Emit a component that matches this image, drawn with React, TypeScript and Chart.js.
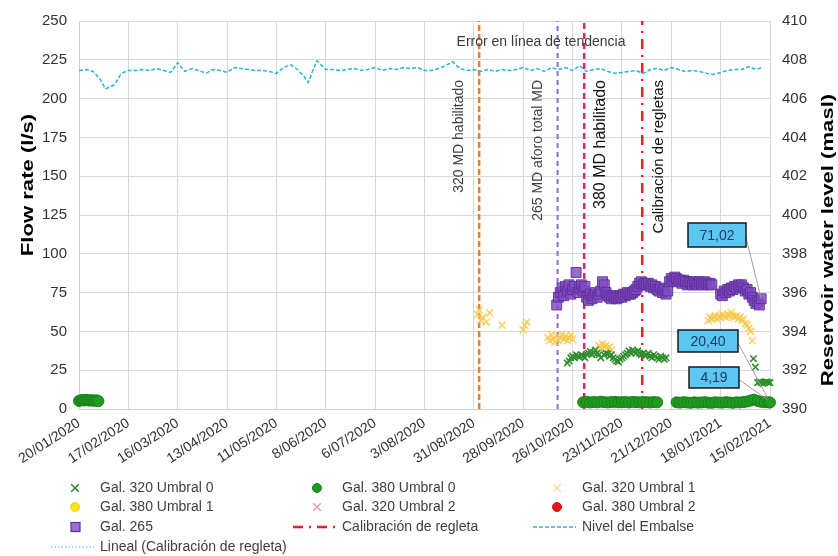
import React, { useEffect, useRef } from 'react';
import { Chart, registerables } from 'chart.js';

Chart.register(...registerables);

// ---------- DATA (x = days since 20/01/2020) ----------
const xTickLabels = [
  '20/01/2020', '17/02/2020', '16/03/2020', '13/04/2020', '11/05/2020', '8/06/2020', '6/07/2020',
  '3/08/2020', '31/08/2020', '28/09/2020', '26/10/2020', '23/11/2020', '21/12/2020', '18/01/2021', '15/02/2021',
];

const gal320U0 = [
  [277, 29.6], [278, 31], [279, 33], [280, 34], [281, 33], [282, 35], [283, 34], [284, 33.5], [285, 35], [286, 34],
  [287, 33], [288, 35.5], [289, 36], [290, 37], [291, 35], [292, 36.5], [293, 38], [294, 36], [295, 35], [296, 33],
  [298, 35], [299, 36], [300, 35.5], [301, 34], [302, 35], [303, 33], [304, 32], [305, 31], [306, 30.5], [307, 32],
  [308, 33], [309, 34], [310, 35], [311, 36], [312, 37.5], [313, 36], [314, 38], [315, 37], [316, 36], [317, 37.5],
  [318, 36], [319, 35], [320, 36], [321, 34.5], [322, 35], [323, 36], [324, 34], [325, 33], [326, 35], [327, 34],
  [328, 33], [329, 32], [330, 34], [331, 33], [332, 32], [333, 33],
  [382.6, 32.4], [383.7, 27], [385, 17], [386, 17.5], [387, 17], [388, 16.5], [389, 17], [390, 17.5], [391, 17], [392, 17],
];

const gal380U0 = [
  [0, 5.2], [1, 5.6], [2, 5.8], [3, 5.5], [4, 5.9], [5, 5.6], [6, 5.4], [7, 5.7], [8, 5.5], [9, 5.3], [10, 5.6], [11, 5.1],
  [286, 4.4], [288, 4.6], [290, 4.2], [292, 4.5], [294, 4.3], [296, 4.7], [298, 4.4], [300, 4.2], [302, 4.5], [304, 4.6],
  [306, 4.3], [308, 4.4], [310, 4.5], [312, 4.2], [314, 4.6], [316, 4.4], [318, 4.3], [320, 4.5], [322, 4.4], [324, 4.2],
  [326, 4.5], [328, 4.3],
  [339, 4.3], [341, 4.1], [343, 4.4], [345, 4.2], [347, 4.0], [349, 4.3], [351, 4.1], [353, 4.2], [355, 4.4], [357, 4.1],
  [359, 4.0], [361, 4.3], [363, 4.2], [365, 4.1], [367, 4.4], [369, 4.2], [371, 4.0], [373, 4.3], [375, 4.2], [377, 4.5],
  [379, 4.8], [381, 5.5], [383, 6.0], [385, 5.2], [387, 4.6], [389, 4.4], [391, 4.3], [392, 4.19],
];

const gal320U1 = [
  [226, 61], [227, 64], [228, 57], [229, 59], [231, 56], [233, 62], [240, 54], [252, 51], [253, 54], [254, 56],
  [266, 46], [267, 44], [268, 48], [269, 45], [270, 43], [271, 47], [272, 44], [273, 46], [274, 48], [275, 45],
  [276, 47], [277, 44], [278, 46], [279, 48], [280, 45],
  [295, 41], [296, 39], [297, 42], [298, 40], [299, 41], [300, 39], [301, 40], [302, 38],
  [357, 57], [358, 59], [359, 58], [360, 59], [361, 60], [362, 58], [363, 60], [364, 59], [365, 61], [366, 60],
  [367, 59], [368, 61], [369, 60], [370, 62], [371, 60], [372, 59], [373, 60], [374, 58], [375, 59], [376, 57],
  [377, 58], [378, 55], [379, 54], [380, 52], [381, 50], [382, 44],
];

const gal380U1: number[][] = [];
const gal320U2: number[][] = [];
const gal380U2: number[][] = [];

const gal265 = [
  [271, 67], [272, 72], [273, 75], [274, 78], [275, 73], [276, 79], [277, 76], [278, 80], [279, 74], [280, 77],
  [281, 79], [282, 88], [283, 75], [284, 78], [285, 80], [286, 76], [287, 79], [288, 72], [289, 70], [290, 74],
  [291, 71], [292, 73], [293, 75], [294, 72], [295, 74], [296, 76], [297, 82], [298, 80], [299, 75], [300, 73],
  [301, 72], [302, 71], [303, 73], [304, 72], [305, 71], [306, 72], [307, 73], [308, 72], [309, 74], [310, 73],
  [311, 75], [312, 74], [313, 74], [314, 75], [315, 76], [316, 77], [317, 79], [318, 81], [319, 82], [320, 80],
  [321, 81], [322, 80], [323, 81], [324, 79], [325, 80], [326, 78], [327, 79], [328, 77], [329, 76], [330, 78],
  [331, 75], [332, 77], [333, 74], [334, 76], [335, 82], [336, 84], [337, 83], [338, 85], [339, 84], [340, 82],
  [341, 83], [342, 81], [343, 83], [344, 82], [345, 80], [346, 82], [347, 81], [348, 80], [349, 82], [350, 81],
  [351, 80], [352, 82], [353, 81], [354, 80], [355, 82], [356, 81], [357, 80], [358, 81], [359, 80],
  [364, 74], [365, 73], [366, 76], [367, 75], [368, 77], [369, 76], [370, 78], [371, 77], [372, 79], [373, 78],
  [374, 80], [375, 79], [376, 80], [377, 78], [378, 76], [379, 77], [380, 74], [381, 75], [382, 72], [383, 70],
  [384, 68], [385, 69], [386, 67], [387, 71.02],
];

const nivelEmbalse = [
  [0, 407.45], [4, 407.5], [8, 407.4], [12, 407.0], [15, 406.5], [20, 406.7], [24, 407.3], [28, 407.45], [32, 407.45],
  [36, 407.5], [40, 407.45], [44, 407.55], [48, 407.45], [52, 407.35], [56, 407.85], [60, 407.4], [64, 407.55],
  [68, 407.45], [72, 407.3], [76, 407.5], [80, 407.45], [84, 407.35], [88, 407.6], [92, 407.55], [96, 407.5],
  [100, 407.45], [104, 407.45], [108, 407.4], [112, 407.3], [116, 407.6], [120, 407.75], [124, 407.5], [128, 407.1],
  [130, 406.83], [132, 407.3], [135, 407.95], [140, 407.5], [144, 407.5], [148, 407.45], [152, 407.5], [156, 407.55],
  [160, 407.45], [164, 407.5], [168, 407.6], [172, 407.45], [176, 407.55], [180, 407.5], [184, 407.6], [188, 407.55],
  [192, 407.6], [196, 407.45], [200, 407.45], [204, 407.55], [208, 407.7], [212, 407.9], [216, 407.55], [220, 407.45],
  [224, 407.5], [228, 407.4], [232, 407.5], [236, 407.4], [240, 407.5], [244, 407.45], [248, 407.5], [252, 407.6],
  [256, 407.45], [260, 407.55], [264, 407.4], [268, 407.6], [272, 407.5], [276, 407.6], [280, 407.45], [284, 407.7],
  [288, 407.4], [292, 407.5], [296, 407.55], [300, 407.4], [304, 407.3], [308, 407.35], [312, 407.4], [316, 407.45],
  [320, 407.3], [324, 407.5], [328, 407.55], [332, 407.45], [336, 407.6], [340, 407.5], [344, 407.4], [348, 407.45],
  [352, 407.4], [356, 407.3], [360, 407.25], [364, 407.35], [368, 407.45], [372, 407.5], [376, 407.5], [380, 407.65],
  [384, 407.5], [388, 407.6],
];

const lineal: number[][] = [];

// event lines: 320 MD habilitado, 265 MD aforo total MD, 380 MD habilitado, Calibración de regletas
const eventDays = [227, 271.5, 286.6, 319.5];
const eventLabels = ['320 MD habilitado', '265 MD aforo total MD', '380 MD habilitado', 'Calibración de regletas'];

const calloutLabels = ['71,02', '20,40', '4,19'];
const calloutTargetDays = [387, 390.5, 390.5];
const calloutTargetValues = [71.02, 7.5, 6];

const noteText = 'Error en línea de tendencia';
const leftTitle = 'Flow rate (l/s)';
const rightTitle = 'Reservoir water level (masl)';

// ---------- STYLE / LAYOUT ----------
const FONT = '"Liberation Sans", Arial, sans-serif';

const eventStyles = [
  { color: '#F07F22', dash: [6, 3], width: 2.5 },
  { color: '#8E6AD2', dash: [5, 4], width: 2 },
  { color: '#E2246E', dash: [6, 4], width: 2.5 },
  { color: '#E3232C', dash: [10, 6, 2, 6], width: 2.5 },
];

const eventTextLayout = [
  { dx: -20, size: 14, color: '#404040' },
  { dx: -19, size: 14, color: '#404040' },
  { dx: 16, size: 16, color: '#111111' },
  { dx: 17, size: 15, color: '#111111' },
];

const calloutBoxes = [
  [688, 223, 58, 24],
  [678, 330, 60, 22],
  [689, 367, 50, 21],
];

const legendTextX = [100, 342, 582];
const legendRowY = [488, 507, 527, 547];

function drawMarker(ctx: CanvasRenderingContext2D, ds: any, x: number, y: number) {
  ctx.save();
  const style = ds.pointStyle;
  ctx.lineWidth = ds.borderWidth ?? 1;
  ctx.strokeStyle = ds.legendStroke ?? ds.borderColor;
  ctx.fillStyle = ds.legendFill ?? ds.backgroundColor;
  if (ds.showLine) {
    ctx.setLineDash(ds.borderDash || []);
    ctx.lineWidth = ds.borderWidth;
    ctx.beginPath();
    ctx.moveTo(x - 49, y);
    ctx.lineTo(x - 6, y);
    ctx.stroke();
  } else if (style === 'crossRot') {
    const r = 3.8;
    ctx.lineWidth = 1.6;
    ctx.beginPath();
    ctx.moveTo(x - 25 - r, y - r); ctx.lineTo(x - 25 + r, y + r);
    ctx.moveTo(x - 25 + r, y - r); ctx.lineTo(x - 25 - r, y + r);
    ctx.stroke();
  } else if (style === 'circle') {
    ctx.beginPath();
    ctx.arc(x - 25, y, 4.5, 0, Math.PI * 2);
    ctx.fill();
    ctx.lineWidth = 1;
    ctx.stroke();
  } else if (style === 'rect') {
    ctx.fillRect(x - 29, y - 4.5, 9, 9);
    ctx.lineWidth = 1.2;
    ctx.strokeRect(x - 29, y - 4.5, 9, 9);
  }
  ctx.restore();
}

const overlayPlugin = {
  id: 'overlay',
  afterDatasetsDraw(chart: any) {
    const { ctx, scales } = chart;
    const xs = scales.x;
    const ys = scales.y;
    // event labels
    eventLabels.forEach((t, i) => {
      const lay = eventTextLayout[i];
      const px = xs.getPixelForValue(eventDays[i]) + lay.dx;
      ctx.save();
      ctx.translate(px, 80);
      ctx.rotate(-Math.PI / 2);
      ctx.font = `${lay.size}px ${FONT}`;
      ctx.fillStyle = lay.color;
      ctx.textAlign = 'right';
      ctx.textBaseline = 'middle';
      ctx.fillText(t, 0, 0);
      ctx.restore();
    });
    // note
    ctx.save();
    ctx.font = `14px ${FONT}`;
    ctx.fillStyle = '#3a3a3a';
    ctx.textAlign = 'center';
    ctx.textBaseline = 'middle';
    ctx.fillText(noteText, 541, 42);
    ctx.restore();
    // callouts
    calloutLabels.forEach((t, i) => {
      const [bx, by, bw, bh] = calloutBoxes[i];
      const tx = xs.getPixelForValue(calloutTargetDays[i]);
      const ty = ys.getPixelForValue(calloutTargetValues[i]);
      ctx.save();
      ctx.strokeStyle = '#A0A0A0';
      ctx.lineWidth = 1;
      ctx.beginPath();
      ctx.moveTo(bx + bw, by + bh * 0.6);
      ctx.lineTo(tx, ty);
      ctx.stroke();
      ctx.fillStyle = '#5CC6F2';
      ctx.fillRect(bx, by, bw, bh);
      ctx.strokeStyle = '#1a1a1a';
      ctx.lineWidth = 1.5;
      ctx.strokeRect(bx, by, bw, bh);
      ctx.font = `14px ${FONT}`;
      ctx.fillStyle = '#1F3A60';
      ctx.textAlign = 'center';
      ctx.textBaseline = 'middle';
      ctx.fillText(t, bx + bw / 2, by + bh / 2 + 1);
      ctx.restore();
    });
  },
  afterDraw(chart: any) {
    const { ctx } = chart;
    // axis titles
    const drawTitle = (t: string, cx: number, cy: number) => {
      ctx.save();
      ctx.translate(cx, cy);
      ctx.rotate(-Math.PI / 2);
      ctx.scale(1.3, 1);
      ctx.font = `bold 17px ${FONT}`;
      ctx.fillStyle = '#000';
      ctx.textAlign = 'center';
      ctx.textBaseline = 'middle';
      ctx.fillText(t, 0, 0);
      ctx.restore();
    };
    drawTitle(leftTitle, 28, 185);
    drawTitle(rightTitle, 828, 240);
    // legend
    const legendSets = chart.data.datasets.filter((d: any) => d.inLegend);
    legendSets.forEach((ds: any, i: number) => {
      const col = i % 3;
      const row = Math.floor(i / 3);
      const tx = legendTextX[col];
      const ty = legendRowY[row];
      drawMarker(ctx, ds, tx, ty);
      ctx.save();
      ctx.font = `14px ${FONT}`;
      ctx.fillStyle = '#404040';
      ctx.textAlign = 'left';
      ctx.textBaseline = 'middle';
      ctx.fillText(ds.label, tx, ty);
      ctx.restore();
    });
  },
};

export default function App() {
  const ref = useRef<HTMLCanvasElement>(null);
  useEffect(() => {
    const canvas = ref.current!;
    const pts = (arr: number[][]) => arr.map(([x, y]) => ({ x, y }));
    const vline = (d: number) => [{ x: d, y: 0 }, { x: d, y: 250 }];
    Chart.defaults.font.family = FONT;

    const datasets: any[] = [
      {
        label: 'Gal. 320 Umbral 0', inLegend: true, data: pts(gal320U0), pointStyle: 'crossRot', pointRadius: 4.5,
        borderColor: '#2E8E2E', backgroundColor: '#2E8E2E', borderWidth: 1.6, order: 2, clip: false,
      },
      {
        label: 'Gal. 380 Umbral 0', inLegend: true, data: pts(gal380U0), pointStyle: 'circle', pointRadius: 5.5,
        borderColor: '#1A7E1A', backgroundColor: '#1F9C1F', borderWidth: 1, order: 2, clip: false,
      },
      {
        label: 'Gal. 320 Umbral 1', inLegend: true, data: pts(gal320U1), pointStyle: 'crossRot', pointRadius: 5,
        borderColor: 'rgba(246,200,72,0.8)', backgroundColor: 'rgba(246,200,72,0.8)', borderWidth: 1.6, order: 2,
        legendStroke: '#F6DCA0', clip: false,
      },
      {
        label: 'Gal. 380 Umbral 1', inLegend: true, data: pts(gal380U1), pointStyle: 'circle', pointRadius: 5,
        borderColor: '#F2D200', backgroundColor: '#FFE31A', borderWidth: 1, order: 2,
      },
      {
        label: 'Gal. 320 Umbral 2', inLegend: true, data: pts(gal320U2), pointStyle: 'crossRot', pointRadius: 5,
        borderColor: '#E9A0A0', backgroundColor: '#E9A0A0', borderWidth: 1.5, order: 2,
      },
      {
        label: 'Gal. 380 Umbral 2', inLegend: true, data: pts(gal380U2), pointStyle: 'circle', pointRadius: 5,
        borderColor: '#D81018', backgroundColor: '#E8141B', borderWidth: 1, order: 2,
      },
      {
        label: 'Gal. 265', inLegend: true, data: pts(gal265), pointStyle: 'rect', pointRadius: 7,
        borderColor: 'rgba(92,46,150,0.9)', backgroundColor: 'rgba(128,74,198,0.82)', borderWidth: 1, order: 1,
        legendFill: '#9A6FD6', legendStroke: '#5E2F9E', clip: false,
      },
      {
        label: 'Calibración de regleta', inLegend: true, data: vline(eventDays[3]), showLine: true, pointRadius: 0,
        borderColor: eventStyles[3].color, borderDash: eventStyles[3].dash, borderWidth: eventStyles[3].width, order: 10,
      },
      {
        label: 'Nivel del Embalse', inLegend: true, data: pts(nivelEmbalse), yAxisID: 'y1', showLine: true, pointRadius: 0,
        borderColor: '#2AB4D6', borderDash: [4, 2], borderWidth: 1.5, order: 5,
      },
      {
        label: 'Lineal (Calibración de regleta)', inLegend: true, data: pts(lineal), showLine: true, pointRadius: 0,
        borderColor: '#6FA6C6', borderDash: [1.5, 2], borderWidth: 1.2, order: 6,
      },
    ];
    [0, 1, 2].forEach((i) => {
      datasets.push({
        label: eventLabels[i], inLegend: false, data: vline(eventDays[i]), showLine: true, pointRadius: 0,
        borderColor: eventStyles[i].color, borderDash: eventStyles[i].dash, borderWidth: eventStyles[i].width, order: 10,
      });
    });

    const chart = new Chart(canvas, {
      type: 'scatter',
      data: { datasets },
      options: {
        responsive: false,
        animation: false,
        devicePixelRatio: 1,
        layout: { padding: { top: 18, left: 0, right: 0, bottom: 0 } },
        plugins: { legend: { display: false }, tooltip: { enabled: false }, title: { display: false } },
        scales: {
          x: {
            type: 'linear', position: 'bottom', min: 0, max: 392,
            afterFit: (s: any) => { s.height = 147; },
            grid: { color: '#D9D9D9', drawTicks: false },
            border: { color: '#D0D0D0' },
            ticks: {
              stepSize: 28, autoSkip: false, maxRotation: 33, minRotation: 33, padding: 6,
              color: '#333333', font: { size: 14 },
              callback: (_v: any, i: number) => xTickLabels[i] ?? '',
            },
          },
          y: {
            position: 'left', min: 0, max: 250,
            afterFit: (s: any) => { s.width = 79; },
            grid: { color: '#D9D9D9', drawTicks: false },
            border: { color: '#D0D0D0' },
            ticks: { stepSize: 25, padding: 12, color: '#333333', font: { size: 15 } },
          },
          y1: {
            position: 'right', min: 390, max: 410,
            afterFit: (s: any) => { s.width = 68; },
            grid: { drawOnChartArea: false, drawTicks: false },
            border: { display: false },
            ticks: { stepSize: 2, padding: 12, color: '#333333', font: { size: 15 } },
          },
        },
      },
      plugins: [overlayPlugin],
    } as any);
    return () => chart.destroy();
  }, []);

  return (
    <div style={{ position: 'fixed', left: 0, top: 0, width: 838, height: 556, background: '#fff' }}>
      <canvas ref={ref} width={838} height={556} style={{ display: 'block', width: 838, height: 556 }} />
    </div>
  );
}
